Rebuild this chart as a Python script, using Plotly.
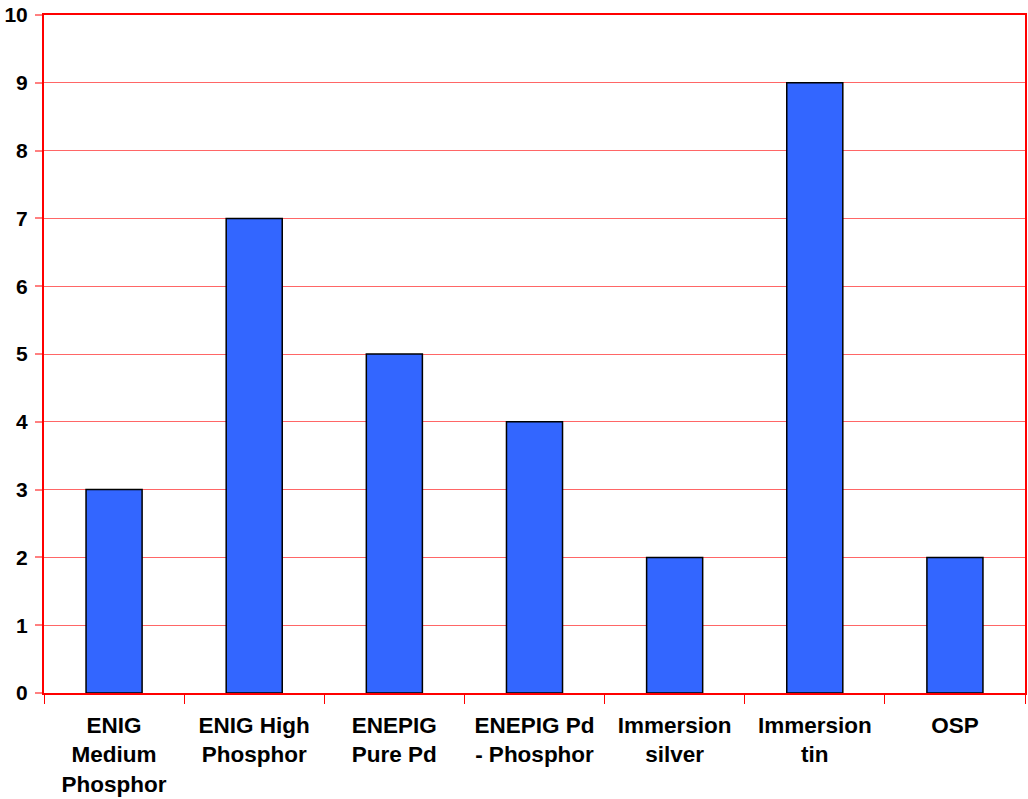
import plotly.graph_objects as go

categories = ["ENIG<br>Medium<br>Phosphor", "ENIG High<br>Phosphor", "ENEPIG<br>Pure Pd",
              "ENEPIG Pd<br>- Phosphor", "Immersion<br>silver", "Immersion<br>tin", "OSP"]
values = [3, 7, 5, 4, 2, 9, 2]
y_ticks = list(range(0, 11))

fig = go.Figure(go.Bar(
    x=categories, y=values,
    marker=dict(color="#3366FF", line=dict(color="#000000", width=1.5)),
))

fam = "Liberation Sans, Arial, sans-serif"

fig.update_layout(
    width=1028, height=799,
    margin=dict(l=44, r=3, t=15, b=106, autoexpand=False),
    plot_bgcolor="white", paper_bgcolor="white",
    bargap=0.6,
    showlegend=False,
    font=dict(family=fam, size=20, color="#000000"),
)
fig.update_xaxes(
    type="category", automargin=False,
    tickson="boundaries",
    ticks="outside", ticklen=9, tickcolor="#FF0000", tickwidth=1,
    ticklabelstandoff=11,
    showline=True, linecolor="#FF0000", linewidth=2, mirror=True,
    showgrid=False,
    tickfont=dict(family=fam, size=22.5, color="#000000", weight="bold"),
)
fig.update_yaxes(
    range=[0, 10], tickvals=y_ticks, automargin=False,
    ticks="outside", ticklen=7, tickcolor="#FF8080", tickwidth=2,
    ticklabelstandoff=3,
    showline=True, linecolor="#FF0000", linewidth=2, mirror=True,
    showgrid=True, gridcolor="#FF6666", gridwidth=1,
    zeroline=False,
    tickfont=dict(family=fam, size=21, color="#000000", weight="bold"),
)

fig.write_html("out.html", config={"displayModeBar": False},
               post_script="document.body.style.margin='0px';")
